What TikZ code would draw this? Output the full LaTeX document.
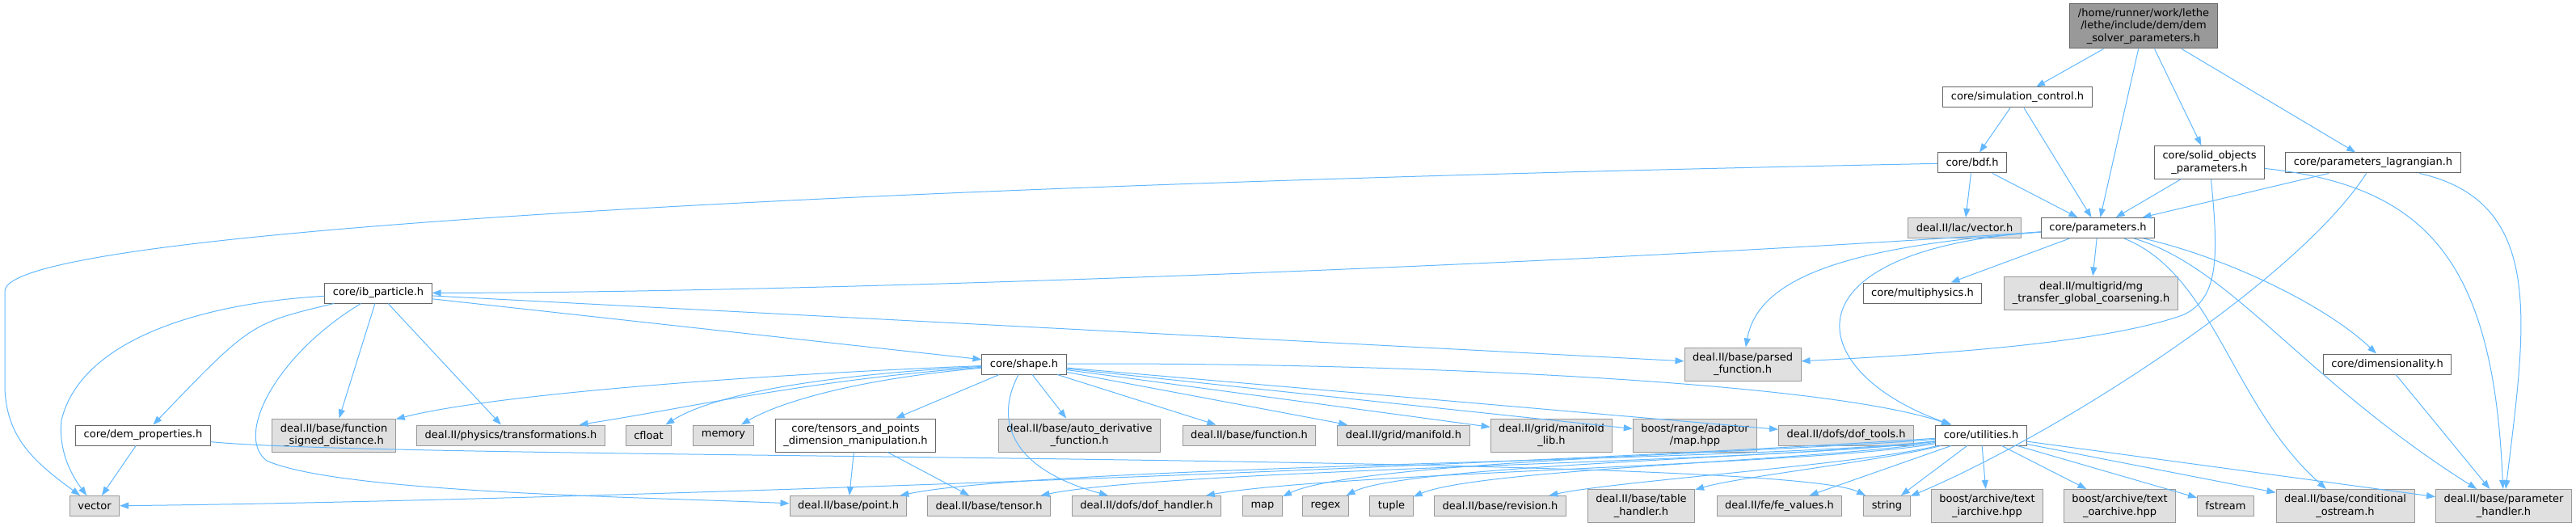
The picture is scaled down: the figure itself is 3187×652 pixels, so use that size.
\documentclass[tikz,border=0pt]{standalone}
\usepackage{fontspec}
\setmainfont{DejaVu Sans}
\usetikzlibrary{arrows.meta}
\definecolor{edgeblue}{HTML}{63B8FF}
\definecolor{extfill}{HTML}{E0E0E0}
\definecolor{extdraw}{HTML}{999999}
\definecolor{hdrdraw}{HTML}{666666}
\definecolor{rootfill}{HTML}{999999}

\begin{document}
\begin{tikzpicture}[x=1pt,y=-1pt,
  hdr/.style={draw=hdrdraw,fill=white,line width=1pt,inner xsep=10pt,inner ysep=2pt,
              minimum height=25pt,align=center,font=\fontsize{13}{15.5}\selectfont},
  ext/.style={hdr,draw=extdraw,fill=extfill},
  two/.style={minimum height=41pt},
  dep/.style={draw=edgeblue,line width=1pt,-{Triangle[length=11pt,width=8pt]}}]
\useasboundingbox (0,0) rectangle (3187,652);

% ---------------- root header ----------------
\node[hdr,fill=rootfill,minimum height=55pt] (root) at (2652,32.5)
     {/home/runner/work/lethe\\/lethe/include/dem/dem\\\_solver\_parameters.h};

% ---------------- upper rows ----------------
\node[hdr] (simctrl) at (2496,120.5) {core/simulation\_control.h};
\node[hdr] (bdf) at (2440,201.5) {core/bdf.h};
\node[hdr,two] (solid) at (2733.5,201) {core/solid\_objects\\\_parameters.h};
\node[hdr] (lagr) at (2936,201.5) {core/parameters\_lagrangian.h};
\node[ext] (lacvec) at (2430.5,282) {deal.II/lac/vector.h};
\node[hdr] (params) at (2595.5,282) {core/parameters.h};
\node[hdr] (ibpart) at (468,362.5) {core/ib\_particle.h};
\node[hdr] (multiphys) at (2378.5,362.5) {core/multiphysics.h};
\node[ext,two] (mgtransfer) at (2587,362.5) {deal.II/multigrid/mg\\\_transfer\_global\_coarsening.h};
\node[hdr] (shape) at (1267,450.5) {core/shape.h};
\node[ext,two] (parsedfn) at (2156,450.5) {deal.II/base/parsed\\\_function.h};
\node[hdr] (dimens) at (2953.5,450.5) {core/dimensionality.h};

% ---------------- second lowest row ----------------
\node[hdr] (demprops) at (177,538.5) {core/dem\_properties.h};
\node[ext,two] (fsd) at (413,538.5) {deal.II/base/function\\\_signed\_distance.h};
\node[ext] (transf) at (632,538.5) {deal.II/physics/transformations.h};
\node[ext] (cfloat) at (802.5,538.5) {cfloat};
\node[ext] (memory) at (895,538.5) {memory};
\node[hdr,two] (tensors) at (1058.5,538.5) {core/tensors\_and\_points\\\_dimension\_manipulation.h};
\node[ext,two] (autoderiv) at (1335.5,538.5) {deal.II/base/auto\_derivative\\\_function.h};
\node[ext] (function) at (1545.5,538.5) {deal.II/base/function.h};
\node[ext] (manifold) at (1736.5,538.5) {deal.II/grid/manifold.h};
\node[ext,two] (manifoldlib) at (1919.5,538.5) {deal.II/grid/manifold\\\_lib.h};
\node[ext,two] (boostmap) at (2097,538.5) {boost/range/adaptor\\/map.hpp};
\node[ext] (doftools) at (2284,538.5) {deal.II/dofs/dof\_tools.h};
\node[hdr] (utilities) at (2451,538.5) {core/utilities.h};

% ---------------- bottom row ----------------
\node[ext] (vector) at (117,626) {vector};
\node[ext] (point) at (1049.5,626) {deal.II/base/point.h};
\node[ext] (tensor) at (1223.5,626) {deal.II/base/tensor.h};
\node[ext] (dofhandler) at (1418.5,626) {deal.II/dofs/dof\_handler.h};
\node[ext] (map) at (1562,626) {map};
\node[ext] (regex) at (1640,626) {regex};
\node[ext] (tuple) at (1721.5,626) {tuple};
\node[ext] (revision) at (1856,626) {deal.II/base/revision.h};
\node[ext,two] (tablehandler) at (2030.5,626) {deal.II/base/table\\\_handler.h};
\node[ext] (fevalues) at (2201.5,626) {deal.II/fe/fe\_values.h};
\node[ext] (string) at (2334.5,626) {string};
\node[ext,two] (iarchive) at (2458.5,626) {boost/archive/text\\\_iarchive.hpp};
\node[ext,two] (oarchive) at (2622.5,626) {boost/archive/text\\\_oarchive.hpp};
\node[ext] (fstream) at (2753.5,626) {fstream};
\node[ext,two] (condostream) at (2901.5,626) {deal.II/base/conditional\\\_ostream.h};
\node[ext,two] (paramhandler) at (3097.5,626) {deal.II/base/parameter\\\_handler.h};

% ---------------- root, simulation control, bdf ----------------
\draw[dep] (root) -- (simctrl);
\draw[dep] (root) -- (params);
\draw[dep] (root) -- (solid);
\draw[dep] (root) -- (lagr);
\draw[dep] (simctrl) -- (bdf);
\draw[dep] (simctrl) -- (params);
\draw[dep] (bdf) .. controls (1200,226) and (8,280) .. (6,360) -- (6,480)
      .. controls (8,540) and (40,570) .. (vector);
\draw[dep] (bdf) -- (lacvec);
\draw[dep] (bdf) -- (params);

% ---------------- solid objects, lagrangian ----------------
\draw[dep] (solid) -- (params);
\draw[dep] (solid) .. controls (2745,320) and (2745,370) .. (2700,390)
      .. controls (2600,425) and (2400,438) .. (parsedfn);
\draw[dep] (solid) .. controls (3000,230) and (3085,320) .. (paramhandler);
\draw[dep] (lagr) -- (params);
\draw[dep] (lagr) .. controls (2840,350) and (2540,540) .. (string);
\draw[dep] (lagr) .. controls (3150,250) and (3125,400) .. (paramhandler);

% ---------------- parameters ----------------
\draw[dep] (params) .. controls (1900,330) and (1000,362) .. (ibpart);
\draw[dep] (params) -- (multiphys);
\draw[dep] (params) -- (mgtransfer);
\draw[dep] (params) .. controls (2280,305) and (2175,345) .. (parsedfn);
\draw[dep] (params) .. controls (2200,310) and (2230,460) .. (utilities);
\draw[dep] (params) .. controls (2760,320) and (2880,380) .. (dimens);
\draw[dep] (params) .. controls (2740,340) and (2760,500) .. (condostream);
\draw[dep] (params) .. controls (2760,330) and (2850,470) .. (paramhandler);

% ---------------- ib particle ----------------
\draw[dep] (ibpart) -- (shape);
\draw[dep] (ibpart) -- (parsedfn);
\draw[dep] (ibpart) .. controls (250,375) and (100,420) .. (76,520)
      .. controls (72,560) and (90,590) .. (vector);
\draw[dep] (ibpart) .. controls (310,400) .. (demprops);
\draw[dep] (ibpart) .. controls (340,440) and (290,540) .. (330,570)
      .. controls (420,610) and (800,615) .. (point);
\draw[dep] (ibpart) -- (fsd);
\draw[dep] (ibpart) -- (transf);

% ---------------- shape ----------------
\draw[dep] (shape) .. controls (900,465) and (600,490) .. (fsd);
\draw[dep] (shape) .. controls (1000,470) and (850,505) .. (transf);
\draw[dep] (shape) .. controls (1000,465) and (880,490) .. (cfloat);
\draw[dep] (shape) .. controls (1050,470) and (960,500) .. (memory);
\draw[dep] (shape) -- (tensors);
\draw[dep] (shape) .. controls (1230,520) and (1250,580) .. (dofhandler);
\draw[dep] (shape) -- (autoderiv);
\draw[dep] (shape) -- (function);
\draw[dep] (shape) -- (manifold);
\draw[dep] (shape) -- (manifoldlib);
\draw[dep] (shape) -- (boostmap);
\draw[dep] (shape) -- (doftools);
\draw[dep] (shape) .. controls (1700,448) and (2250,470) .. (utilities);

% ---------------- tensors, dem properties, dimensionality ----------------
\draw[dep] (tensors) -- (point);
\draw[dep] (tensors) -- (tensor);
\draw[dep] (demprops) -- (vector);
\draw[dep] (demprops) .. controls (500,570) and (2200,560) .. (string);
\draw[dep] (dimens) -- (paramhandler);

% ---------------- utilities ----------------
\draw[dep] (utilities) .. controls (1900,575) and (700,620) .. (vector);
\draw[dep] (utilities) .. controls (2200,570) and (1300,575) .. (point);
\draw[dep] (utilities) .. controls (2200,572) and (1450,580) .. (tensor);
\draw[dep] (utilities) .. controls (2250,575) and (1650,585) .. (dofhandler);
\draw[dep] (utilities) .. controls (2200,560) and (1680,570) .. (map);
\draw[dep] (utilities) .. controls (2250,565) and (1740,575) .. (regex);
\draw[dep] (utilities) .. controls (2250,570) and (1830,580) .. (tuple);
\draw[dep] (utilities) .. controls (2300,575) and (2000,595) .. (revision);
\draw[dep] (utilities) .. controls (2330,570) and (2150,590) .. (tablehandler);
\draw[dep] (utilities) -- (fevalues);
\draw[dep] (utilities) -- (string);
\draw[dep] (utilities) -- (iarchive);
\draw[dep] (utilities) -- (oarchive);
\draw[dep] (utilities) -- (fstream);
\draw[dep] (utilities) -- (condostream);
\draw[dep] (utilities) -- (paramhandler);
\end{tikzpicture}
\end{document}
